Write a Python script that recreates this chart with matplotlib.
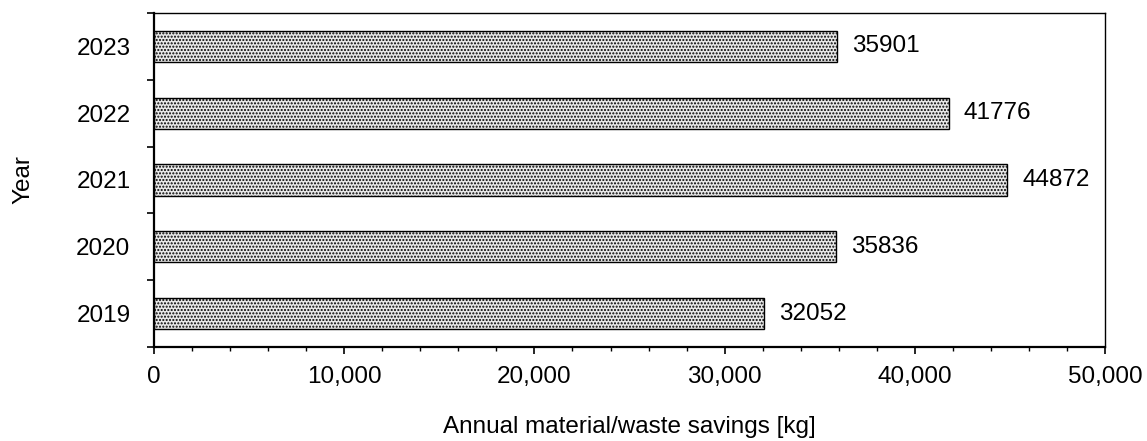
import numpy as np
import matplotlib.pyplot as plt
from matplotlib.ticker import FuncFormatter, MultipleLocator

# ── Data ──────────────────────────────────────────────────────────────────────
years   = ['2019', '2020', '2021', '2022', '2023']
savings = [32052, 35836, 44872, 41776, 35901]

plt.rcParams['font.family'] = ['Liberation Sans', 'DejaVu Sans']
plt.rcParams['hatch.linewidth'] = 1.0

FS = 17.5

fig = plt.figure(figsize=(11.47, 4.41), dpi=100)
ax = fig.add_axes([0.1343, 0.2132, 0.8291, 0.7573])

y = np.arange(len(years))
bars = ax.barh(y, savings, height=0.47, color='#e8e8e8', edgecolor='black',
               hatch='.....', lw=1.0)
ax.bar_label(bars, labels=[str(v) for v in savings], padding=11, fontsize=FS)

# ── Axes ──────────────────────────────────────────────────────────────────────
ax.set_xlim(0, 50000)
ax.set_ylim(-0.5, len(years) - 0.5)
ax.xaxis.set_major_locator(MultipleLocator(10000))
ax.xaxis.set_minor_locator(MultipleLocator(2000))
ax.xaxis.set_major_formatter(FuncFormatter(lambda v, _: f'{v:,.0f}'))
ax.set_yticks(y)
ax.set_yticklabels(years)
ax.set_yticks(np.arange(-0.5, len(years)), minor=True)
ax.tick_params(axis='y', which='major', length=0, pad=17, labelsize=FS)
ax.tick_params(axis='y', which='minor', length=5, width=1.2)
ax.tick_params(axis='x', which='major', length=5, width=1.2, pad=9, labelsize=FS)
ax.tick_params(axis='x', which='minor', length=3, width=1.0)
for s in ['left', 'bottom']:
    ax.spines[s].set_linewidth(1.6)
for s in ['top', 'right']:
    ax.spines[s].set_linewidth(1.0)

ax.set_xlabel('Annual material/waste savings [kg]', fontsize=FS, labelpad=20)
ax.set_ylabel('Year', fontsize=FS, labelpad=30)

fig.savefig('out.png', dpi=100)
